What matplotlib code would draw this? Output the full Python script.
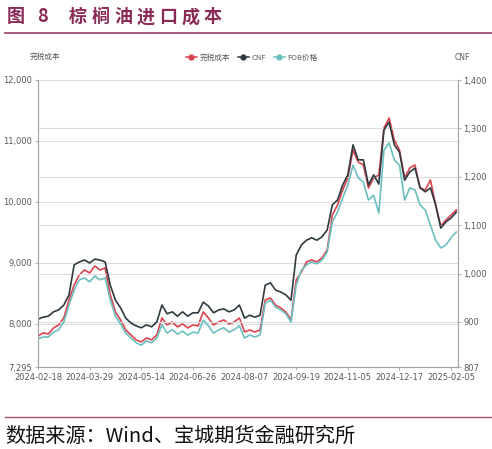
import numpy as np
import matplotlib.pyplot as plt
from matplotlib.lines import Line2D

plt.rcParams['font.family'] = ['Noto Sans CJK SC', 'DejaVu Sans']

# tick dates (trading-day axis, one label every 30 trading days)
dates = ['2024-02-18', '2024-03-29', '2024-05-14', '2024-06-26', '2024-08-07',
         '2024-09-19', '2024-11-05', '2024-12-17', '2025-02-05']

# 完税成本 (left axis), sampled every 3 trading days
cost = [7804, 7853, 7837, 7935, 7984, 8099, 8394, 8640, 8804, 8886,
        8837, 8951, 8886, 8919, 8476, 8198, 8066, 7902, 7821, 7739,
        7706, 7771, 7739, 7821, 8099, 7984, 8034, 7952, 8001, 7935,
        7984, 7968, 8198, 8099, 7984, 8034, 8066, 8001, 8034, 8099,
        7870, 7902, 7870, 7902, 8394, 8427, 8312, 8263, 8198, 8066,
        8722, 8853, 9017, 9050, 9017, 9083, 9214, 9787, 9951, 10197,
        10394, 10853, 10656, 10607, 10230, 10394, 10443, 11213, 11377, 11017,
        10853, 10394, 10558, 10607, 10230, 10197, 10361, 9951, 9607, 9705,
        9787, 9869]

# CNF (right axis)
cnf = [906, 910, 912, 921, 925, 935, 956, 1018, 1024, 1028,
       1022, 1030, 1028, 1024, 976, 945, 929, 908, 898, 892,
       888, 894, 890, 900, 935, 917, 921, 912, 921, 912,
       919, 919, 941, 933, 919, 925, 927, 921, 925, 935,
       908, 914, 910, 914, 976, 981, 966, 962, 956, 945,
       1038, 1059, 1069, 1074, 1069, 1076, 1090, 1142, 1152, 1183,
       1204, 1266, 1235, 1235, 1183, 1204, 1185, 1297, 1313, 1266,
       1251, 1193, 1210, 1218, 1177, 1169, 1177, 1142, 1094, 1107,
       1115, 1127]

# FOB价格 (right axis)
fob = [865, 869, 869, 879, 884, 900, 935, 966, 987, 991,
       983, 995, 987, 991, 945, 912, 896, 877, 867, 857,
       852, 861, 857, 867, 894, 877, 884, 875, 881, 873,
       879, 877, 904, 892, 877, 884, 888, 879, 884, 892,
       867, 873, 869, 873, 939, 945, 931, 925, 917, 900,
       976, 1007, 1018, 1024, 1020, 1028, 1045, 1107, 1127, 1156,
       1183, 1224, 1198, 1189, 1152, 1162, 1125, 1255, 1270, 1235,
       1224, 1152, 1177, 1173, 1142, 1131, 1100, 1069, 1053, 1059,
       1074, 1086]

left_ticks = [7295, 8000, 9000, 10000, 11000, 12000]
right_ticks = [807, 900, 1000, 1100, 1200, 1300, 1400]

red = '#d9444e'
dark = '#2e3a40'
teal = '#6cbfc0'
maroon = '#8a2a56'
grey = '#a6a6a6'
narrow = ['Liberation Sans Narrow', 'DejaVu Sans']

fig = plt.figure(figsize=(4.92, 4.49), dpi=100)

# title and frame lines
fig.text(16 / 492, 1 - 17 / 449, '图', color=maroon, fontsize=13,
         fontweight='bold', ha='center', va='center')
fig.text(43 / 492, 1 - 17 / 449, '8', color=maroon, fontsize=13,
         fontweight='bold', ha='center', va='center')
for i, ch in enumerate('棕榈油进口成本'):
    fig.text((78 + 22.5 * i) / 492, 1 - 17 / 449, ch, color=maroon,
             fontsize=13, fontweight='bold', ha='center', va='center')
fig.add_artist(Line2D([5 / 492, 1], [1 - 33 / 449, 1 - 33 / 449],
                      color='#a34d74', lw=1.3))
fig.add_artist(Line2D([5 / 492, 1], [1 - 417 / 449, 1 - 417 / 449],
                      color='#a34d74', lw=1.0))
fig.text(5 / 492, 1 - 436 / 449, '数据来源：Wind、宝城期货金融研究所',
         fontsize=14.5, color='#111111', ha='left', va='center')

ax = fig.add_axes([38 / 492, 1 - 367 / 449, 420 / 492, 287 / 449])
ax2 = ax.twinx()

x = np.arange(len(cnf)) * 3
ax.plot(x, cost, color=red, lw=1.2)
ax2.plot(x, fob, color=teal, lw=1.2)
ax2.plot(x, cnf, color=dark, lw=1.2)

ax.set_xlim(0, 244)
ax.set_ylim(7295, 12000)
ax2.set_ylim(807, 1400)
ax.set_xticks(np.arange(len(dates)) * 30)
ax.set_xticklabels(dates)
ax.set_yticks(left_ticks)
ax.set_yticklabels(['{:,}'.format(v) for v in left_ticks])
ax2.set_yticks(right_ticks)
ax2.set_yticklabels(['{:,}'.format(v) for v in right_ticks])

for a in (ax, ax2):
    a.grid(axis='y', color='#dcdcdc', lw=0.8)
    a.set_axisbelow(True)
    a.spines['top'].set_visible(False)
    for s in ('left', 'right', 'bottom'):
        a.spines[s].set_color(grey)
        a.spines[s].set_linewidth(0.8)
    a.tick_params(length=2.5, width=0.6, color=grey, labelsize=6,
                  labelcolor='#595959', pad=1.5)
    for lab in a.get_xticklabels() + a.get_yticklabels():
        lab.set_fontfamily(narrow)

fig.text(45 / 492, 1 - 57 / 449, '完税成本', fontsize=5.5, color='#595959',
         ha='center', va='center')
fig.text(462 / 492, 1 - 57 / 449, 'CNF', fontsize=5.5, color='#595959',
         ha='center', va='center', family=narrow)

handles = [Line2D([], [], color=c, lw=1.1, marker='o', markersize=3.5)
           for c in (red, dark, teal)]
fig.legend(handles, ['完税成本', 'CNF', 'FOB价格'], loc='center',
           bbox_to_anchor=(252 / 492, 1 - 58 / 449), ncol=3, frameon=False,
           fontsize=5.5, handlelength=1.4, handletextpad=0.4,
           columnspacing=1.0, labelcolor='#595959')

fig.savefig('out.png', dpi=100)
